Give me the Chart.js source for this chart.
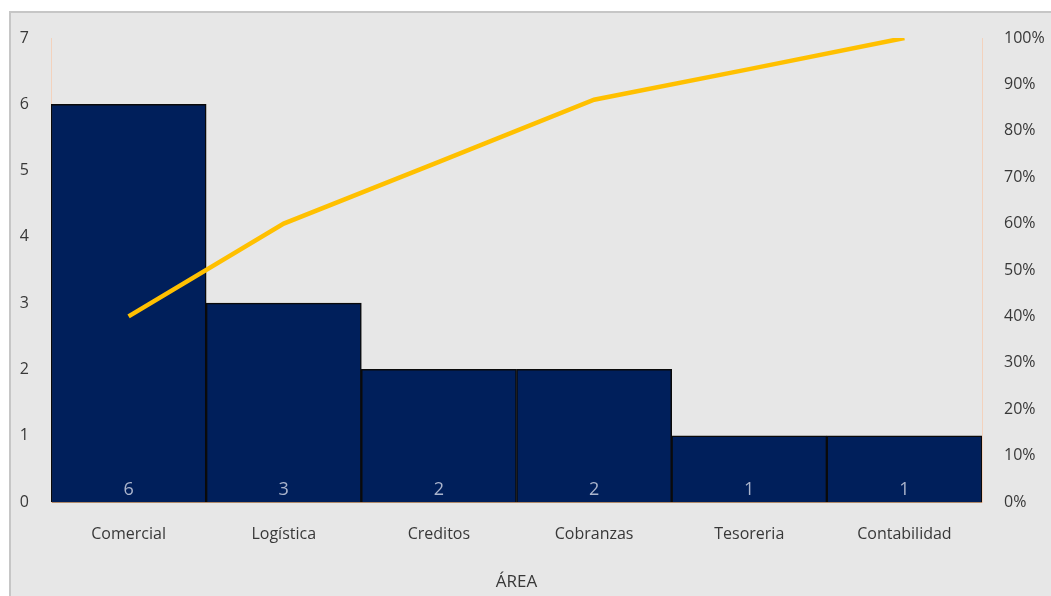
<!DOCTYPE html>
<html lang="es">
<head>
  <meta charset="UTF-8">
  <title>Pareto por área</title>
  <script src="https://cdn.jsdelivr.net/npm/chart.js"></script>
  <style>
    body { margin: 0; background: #fff; width: 1051px; height: 596px; overflow: hidden; }
    #box { position: absolute; left: 9px; top: 11px; width: 1040px; height: 583px;
           background: #e7e7e7; border-top: 2px solid #c6c6c6; border-left: 2px solid #c6c6c6; }
  </style>
</head>
<body>
  <div id="box"><canvas id="pareto"></canvas></div>

  <script>
    const areas = ["Comercial", "Logística", "Creditos", "Cobranzas", "Tesoreria", "Contabilidad"];
    const cantidad = [6, 3, 2, 2, 1, 1];
    const acumulado = [40, 60, 73.3, 86.7, 93.3, 100];
    const leftTicks = [0, 1, 2, 3, 4, 5, 6, 7];
    const rightTicks = [0, 10, 20, 30, 40, 50, 60, 70, 80, 90, 100];

    const tickFont = { family: "'Open Sans', sans-serif", size: 16 };

    // valores dentro de cada barra, abajo
    const barValues = {
      id: 'barValues',
      afterDatasetsDraw(chart) {
        const ctx = chart.ctx;
        const meta = chart.getDatasetMeta(1);
        ctx.save();
        ctx.fillStyle = '#aab4cc';
        ctx.font = "18px 'Open Sans', sans-serif";
        ctx.textAlign = 'center';
        ctx.textBaseline = 'bottom';
        meta.data.forEach((bar, i) => {
          ctx.fillText(String(cantidad[i]), bar.x, bar.base - 3);
        });
        ctx.restore();
      }
    };

    new Chart(document.getElementById('pareto'), {
      data: {
        labels: areas,
        datasets: [
          {
            type: 'line',
            data: acumulado,
            yAxisID: 'y1',
            borderColor: '#ffc000',
            borderWidth: 4.5,
            pointRadius: 0,
            tension: 0,
            order: 0
          },
          {
            type: 'bar',
            data: cantidad,
            yAxisID: 'y',
            backgroundColor: '#001f5b',
            borderColor: '#0a0a0a',
            borderWidth: 1.5,
            categoryPercentage: 1,
            barPercentage: 1,
            order: 1
          }
        ]
      },
      options: {
        responsive: true,
        maintainAspectRatio: false,
        animation: false,
        layout: { padding: { top: 25, right: 0, left: 0, bottom: 0 } },
        plugins: { legend: { display: false }, tooltip: { enabled: false } },
        scales: {
          x: {
            grid: { display: false },
            border: { display: true, color: '#b08a6a', width: 1 },
            ticks: { color: '#383838', font: tickFont, padding: 15 },
            title: { display: true, text: 'ÁREA', color: '#383838', font: { family: "'Open Sans', sans-serif", size: 17 }, padding: { top: 12 } },
            afterFit(scale) { scale.height = 94; }
          },
          y: {
            position: 'left',
            min: 0, max: 7,
            afterBuildTicks(scale) { scale.ticks = leftTicks.map(v => ({ value: v })); },
            grid: { display: false },
            border: { display: true, color: '#f3d2bd', width: 1 },
            ticks: { color: '#383838', font: tickFont, padding: 14 },
            afterFit(scale) { scale.width = 40; }
          },
          y1: {
            position: 'right',
            min: 0, max: 100,
            afterBuildTicks(scale) { scale.ticks = rightTicks.map(v => ({ value: v })); },
            grid: { display: false },
            border: { display: true, color: '#f3d2bd', width: 1 },
            ticks: { color: '#383838', font: tickFont, padding: 14, callback: v => v + '%' },
            afterFit(scale) { scale.width = 69; }
          }
        }
      },
      plugins: [barValues]
    });
  </script>
</body>
</html>
